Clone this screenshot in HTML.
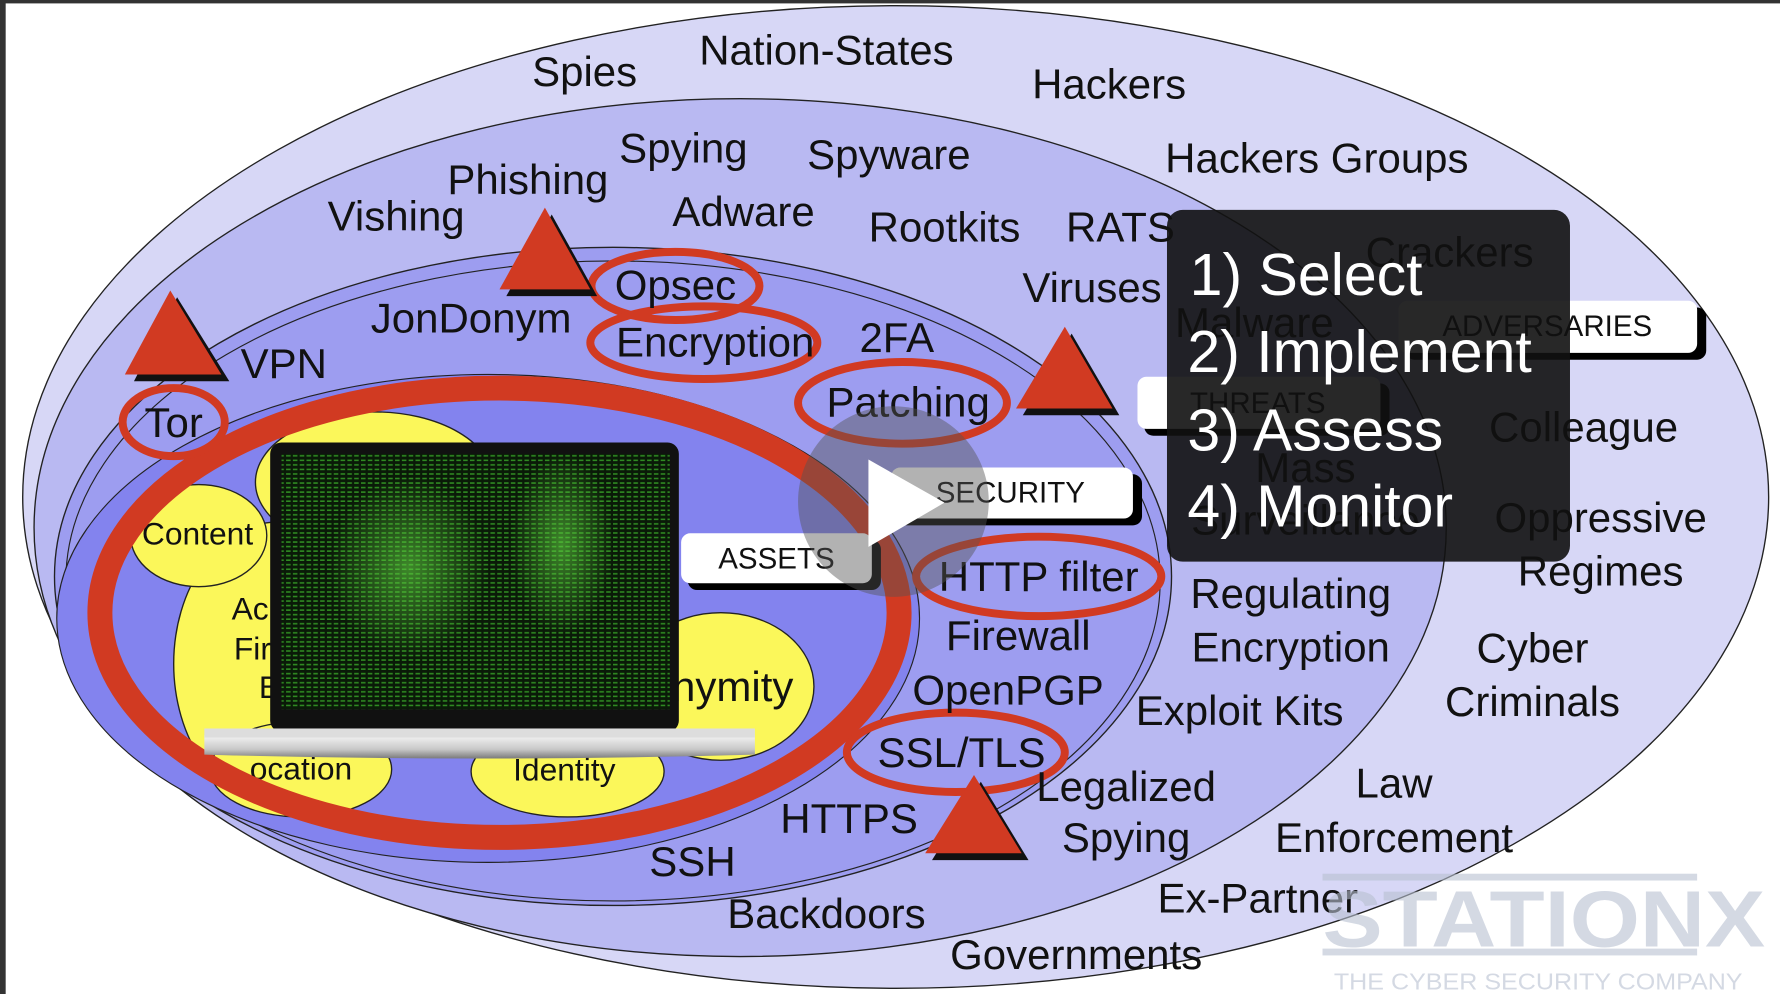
<!DOCTYPE html>
<html><head><meta charset="utf-8"><style>
html,body{margin:0;padding:0;background:#fff;overflow:hidden}
svg{display:block}
text{font-family:"Liberation Sans",Arial,sans-serif}
</style></head><body>
<svg width="1780" height="994" viewBox="0 0 1568 876" preserveAspectRatio="none" xmlns="http://www.w3.org/2000/svg">
<defs>
<pattern id="mx" width="6" height="4" patternUnits="userSpaceOnUse">
<rect width="6" height="4" fill="#0a1a08"/>
<rect x="0" y="1" width="4" height="1.4" fill="#2f8a22"/>
</pattern>
<radialGradient id="glow" cx="50%" cy="50%" r="50%">
<stop offset="0" stop-color="#5fd040" stop-opacity="0.6"/>
<stop offset="1" stop-color="#5fd040" stop-opacity="0"/>
</radialGradient>
<linearGradient id="base" x1="0" y1="0" x2="0" y2="1">
<stop offset="0" stop-color="#f4f4f4"/><stop offset="0.6" stop-color="#c8c8c8"/><stop offset="1" stop-color="#7a7a7a"/>
</linearGradient>
</defs>
<rect width="1568" height="876" fill="#fff"/>
<rect x="0" y="0" width="1568" height="3" fill="#333"/>
<rect x="0" y="0" width="5" height="876" fill="#333"/>
<!-- rings -->
<ellipse cx="789" cy="438" rx="769" ry="433" fill="#d7d7f6" stroke="#222" stroke-width="1.2"/>
<ellipse cx="652" cy="465" rx="622" ry="378" fill="#b9b9f2" stroke="#222" stroke-width="1.2"/>
<ellipse cx="540" cy="508" rx="492" ry="290" fill="#9d9df0" stroke="#222" stroke-width="1.2"/>
<ellipse cx="540" cy="512" rx="482" ry="282" fill="none" stroke="#222" stroke-width="1"/>
<ellipse cx="430" cy="545" rx="380" ry="215" fill="#8383ee" stroke="#222" stroke-width="1"/>
<!-- yellow asset bubbles -->
<g fill="#fbf75a" stroke="#222" stroke-width="1.2">
<ellipse cx="330" cy="425" rx="105" ry="62"/>
<ellipse cx="245" cy="585" rx="92" ry="125"/>
<ellipse cx="175" cy="472" rx="60" ry="45"/>
<ellipse cx="635" cy="605" rx="82" ry="65"/>
<ellipse cx="265" cy="678" rx="80" ry="42"/>
<ellipse cx="500" cy="680" rx="85" ry="40"/>
</g>
<g font-size="28" fill="#111">
<text x="125" y="480">Content</text>
<text x="204" y="546">Ac</text>
<text x="206" y="581">Fir</text>
<text x="228" y="615">B</text>
<text x="592" y="618" font-size="37">nymity</text>
<text x="220" y="687">ocation</text>
<text x="452" y="688">Identity</text>
</g>
<!-- red big ring -->
<ellipse cx="440" cy="540" rx="352" ry="198" fill="none" stroke="#d13a22" stroke-width="22"/>
<!-- laptop -->
<rect x="238" y="390" width="360" height="255" rx="10" fill="#111"/>
<rect x="248" y="400" width="342" height="225" fill="url(#mx)"/>
<ellipse cx="360" cy="500" rx="70" ry="80" fill="url(#glow)"/>
<ellipse cx="495" cy="480" rx="45" ry="80" fill="url(#glow)"/>
<path d="M180 648 L665 648 L665 665 Q420 672 180 665 Z" fill="url(#base)"/>
<rect x="180" y="642" width="485" height="8" fill="#ddd"/>
<!-- labels -->
<g font-size="20" fill="#111">
<rect x="606" y="476" width="170" height="44" rx="8" fill="#000"/>
<rect x="600" y="470" width="168" height="44" rx="8" fill="#fff"/>
<text x="684" y="501" text-anchor="middle" font-size="26">ASSETS</text>
<rect x="791" y="418" width="215" height="45" rx="8" fill="#000"/>
<rect x="785" y="412" width="213" height="45" rx="8" fill="#fff"/>
<text x="890" y="443" text-anchor="middle" font-size="26">SECURITY</text>
<rect x="1008" y="338" width="216" height="46" rx="8" fill="#000"/>
<rect x="1002" y="332" width="214" height="46" rx="8" fill="#fff"/>
<text x="1108" y="364" text-anchor="middle" font-size="26">THREATS</text>
<rect x="1238" y="271" width="265" height="46" rx="8" fill="#000"/>
<rect x="1232" y="265" width="263" height="46" rx="8" fill="#fff"/>
<text x="1363" y="296" text-anchor="middle" font-size="26">ADVERSARIES</text>
</g>
<!-- small red ellipses -->
<g fill="none" stroke="#d13a22" stroke-width="7">
<ellipse cx="153" cy="372" rx="45" ry="30"/>
<ellipse cx="595" cy="252" rx="74" ry="30"/>
<ellipse cx="620" cy="302" rx="100" ry="32"/>
<ellipse cx="795" cy="355" rx="92" ry="36"/>
<ellipse cx="915" cy="508" rx="108" ry="35"/>
<ellipse cx="842" cy="663" rx="96" ry="35"/>
</g>
<!-- triangles -->
<g>
<polygon points="156,262 118,336 202,336" fill="#111"/>
<polygon points="150,256 110,330 195,330" fill="#d13a22"/>
<polygon points="486,189 446,261 526,261" fill="#111"/>
<polygon points="480,183 440,255 520,255" fill="#d13a22"/>
<polygon points="944,294 901,366 986,366" fill="#111"/>
<polygon points="938,288 895,360 980,360" fill="#d13a22"/>
<polygon points="864,689 821,758 906,758" fill="#111"/>
<polygon points="858,683 815,752 900,752" fill="#d13a22"/>
</g>
<!-- words -->
<g font-size="37" fill="#111" text-anchor="middle">
<text x="515" y="76">Spies</text>
<text x="728" y="57">Nation-States</text>
<text x="977" y="87">Hackers</text>
<text x="602" y="143">Spying</text>
<text x="783" y="149">Spyware</text>
<text x="1160" y="152">Hackers Groups</text>
<text x="465" y="171">Phishing</text>
<text x="349" y="203">Vishing</text>
<text x="655" y="199">Adware</text>
<text x="832" y="213">Rootkits</text>
<text x="987" y="213">RATS</text>
<text x="1277" y="235">Crackers</text>
<text x="962" y="266">Viruses</text>
<text x="415" y="293">JonDonym</text>
<text x="1105" y="297">Malware</text>
<text x="790" y="310">2FA</text>
<text x="595" y="264">Opsec</text>
<text x="630" y="314">Encryption</text>
<text x="250" y="333">VPN</text>
<text x="800" y="367">Patching</text>
<text x="1395" y="389">Colleague</text>
<text x="153" y="385">Tor</text>
<text x="1150" y="425">Mass</text>
<text x="1150" y="471">Surveillance</text>
<text x="1410" y="469">Oppressive</text>
<text x="1410" y="516">Regimes</text>
<text x="915" y="521">HTTP filter</text>
<text x="1137" y="536">Regulating</text>
<text x="897" y="573">Firewall</text>
<text x="1137" y="583">Encryption</text>
<text x="1350" y="584">Cyber</text>
<text x="888" y="621">OpenPGP</text>
<text x="1092" y="639">Exploit Kits</text>
<text x="1350" y="631">Criminals</text>
<text x="847" y="676">SSL/TLS</text>
<text x="992" y="706">Legalized</text>
<text x="1228" y="703">Law</text>
<text x="748" y="734">HTTPS</text>
<text x="992" y="751">Spying</text>
<text x="1228" y="751">Enforcement</text>
<text x="610" y="772">SSH</text>
<text x="1108" y="804">Ex-Partner</text>
<text x="728" y="818">Backdoors</text>
<text x="948" y="854">Governments</text>
</g>
<!-- play button -->
<circle cx="787" cy="442" r="84" fill="#555" fill-opacity="0.45"/>
<polygon points="765,405 765,482 832,443" fill="#fff"/>
<!-- steps box -->
<rect x="1028" y="185" width="355" height="310" rx="14" fill="#111" fill-opacity="0.9"/>
<g font-size="52" fill="#fff">
<text x="1048" y="260">1) Select</text>
<text x="1046" y="328">2) Implement</text>
<text x="1046" y="397">3) Assess</text>
<text x="1046" y="464">4) Monitor</text>
</g>
<!-- watermark -->
<g fill="#b8bfd0" fill-opacity="0.6">
<rect x="1165" y="770" width="330" height="6"/>
<rect x="1165" y="836" width="330" height="6"/>
<text x="1165" y="834" font-size="70" font-weight="bold" textLength="390" lengthAdjust="spacingAndGlyphs">STATIONX</text>
<text x="1175" y="872" font-size="20" textLength="360" lengthAdjust="spacingAndGlyphs">THE CYBER SECURITY COMPANY</text>
</g>
</svg>
</body></html>
